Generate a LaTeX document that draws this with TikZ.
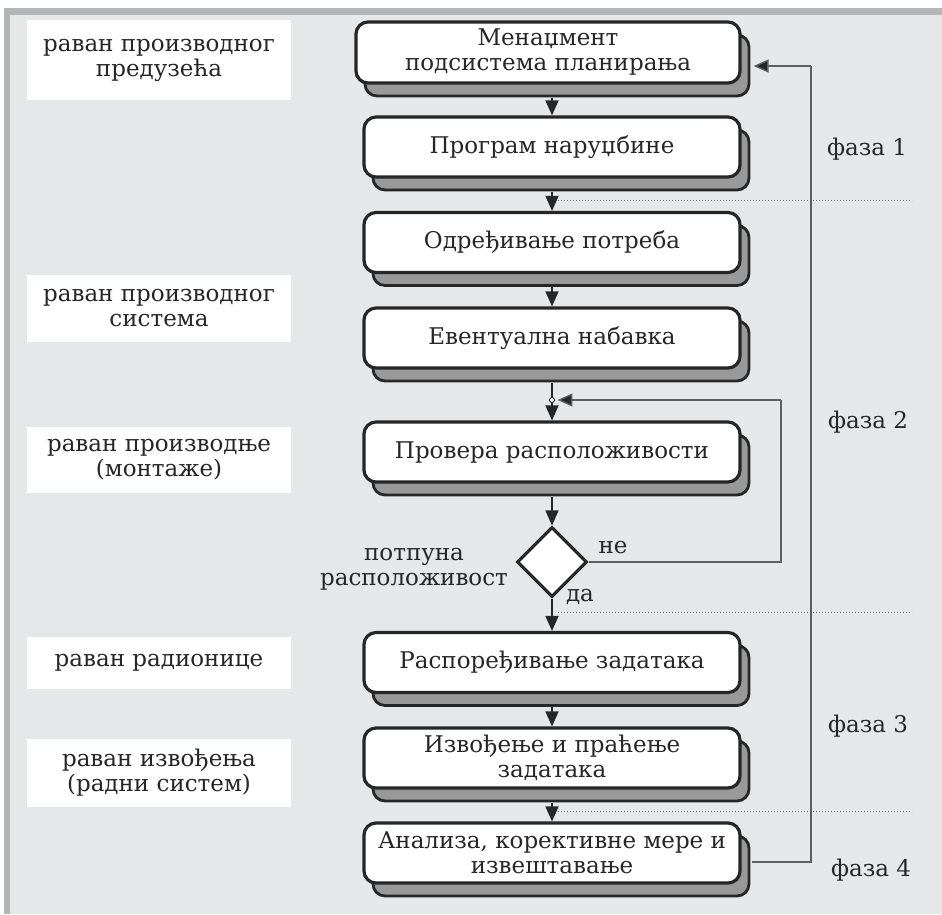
\documentclass[tikz,border=0pt]{standalone}
\usepackage{fontspec}
\setmainfont{DejaVu Serif}
\usetikzlibrary{arrows.meta,shapes.geometric,shadows,calc}
\definecolor{bgc}{HTML}{E6E7E8}
\definecolor{bandc}{HTML}{B4B5B7}
\definecolor{ink}{HTML}{262626}
\definecolor{shade}{HTML}{999999}
\definecolor{wire}{HTML}{5E5E5E}
\definecolor{sepc}{HTML}{7A7A7A}

\begin{document}
\begin{tikzpicture}[x=1pt,y=-1pt,
  txt/.style={text=ink, font=\fontsize{23}{25}\selectfont},
  stepbox/.style={txt, rectangle, rounded corners=12pt, draw=ink, line width=3.2pt,
    fill=white, minimum width=376pt, minimum height=60pt, inner sep=2pt, align=center,
    copy shadow={shadow xshift=9pt, shadow yshift=-13pt, fill=shade, draw=ink, line width=2.8pt}},
  levelbox/.style={txt, rectangle, fill=white, minimum width=264pt, inner sep=0pt, align=center},
  decision/.style={diamond, draw=ink, line width=3.2pt, fill=white, minimum width=70pt,
    minimum height=70pt, inner sep=0pt, aspect=1},
  flow/.style={draw=ink, line width=1.6pt, -{Triangle[length=15pt,width=13pt]}},
  plain/.style={draw=ink, line width=1.6pt},
  wireline/.style={draw=wire, line width=1.4pt},
  wirearrow/.style={wireline, -{Triangle[length=15pt,width=13pt]}, arrows={[fill=ink]}},
  sep/.style={draw=sepc, line width=1pt, dotted},
  phase/.style={txt, anchor=west, inner sep=0pt},
  answer/.style={txt, inner sep=0pt}]

% page, frame bands and panel
\useasboundingbox (0,0) rectangle (942,914);
\fill[white] (0,0) rectangle (942,914);
\fill[bandc] (4,8) rectangle (942,15);
\fill[bandc] (4,8) rectangle (10,914);
\fill[bgc] (10,15) rectangle (942,914);

% level labels on the left
\node[levelbox, minimum height=80pt] (l1) at (159,60) {раван производног\\предузећа};
\node[levelbox, minimum height=67pt] (l2) at (159,308.5) {раван производног\\система};
\node[levelbox, minimum height=66pt] (l3) at (159,460) {раван производње\\(монтаже)};
\node[levelbox, minimum height=52pt] (l4) at (159,663) {раван радионице};
\node[levelbox, minimum height=68pt] (l5) at (159,773) {раван извођења\\(радни систем)};

% process steps
\node[stepbox, minimum width=384pt, minimum height=61pt] (b1) at (548,52.5) {Менаџмент\\подсистема планирања};
\node[stepbox] (b2) at (552,147) {Програм наруџбине};
\node[stepbox] (b3) at (552,242.5) {Одређивање потреба};
\node[stepbox] (b4) at (552,338) {Евентуална набавка};
\node[stepbox] (b5) at (552,452) {Провера расположивости};
\node[decision] (dm) at (552,562) {};
\node[stepbox] (b6) at (552,662.5) {Распоређивање задатака};
\node[stepbox] (b7) at (552,758) {Извођење и праћење\\задатака};
\node[stepbox] (b8) at (552,853) {Анализа, корективне мере и\\извештавање};

% decision labels
\node[txt, align=center, inner sep=0pt] (dq) at (414,569) {потпуна\\расположивост};
\node[answer] (no) at (613,548) {не};
\node[answer] (yes) at (580,597) {да};

% phase labels and separators
\node[phase] (ph1) at (827,149) {фаза 1};
\node[phase] (ph2) at (828,422) {фаза 2};
\node[phase] (ph3) at (828,726) {фаза 3};
\node[phase] (ph4) at (831,870) {фаза 4};
\draw[sep] (558,200) -- (912,200);
\draw[sep] (558,612) -- (912,612);
\draw[sep] (558,811) -- (912,811);

% main flow
\draw[flow] ($(b1.south -| b2.north)+(0,13)$) -- (b2.north);
\draw[flow] ($(b2.south)+(0,13)$) -- (b3.north);
\draw[flow] ($(b3.south)+(0,13)$) -- (b4.north);
\coordinate (j) at (552,400);
\draw[plain] ($(b4.south)+(0,13)$) -- (j);
\draw[flow] (j) -- (b5.north);
\draw[flow] ($(b5.south)+(0,13)$) -- (dm.north);
\draw[flow] (dm.south) -- (b6.north);
\draw[flow] ($(b6.south)+(0,13)$) -- (b7.north);
\draw[flow] ($(b7.south)+(0,13)$) -- (b8.north);

% availability loop
\coordinate (loopturn) at (781,400);
\node[circle, draw=ink, fill=white, line width=0.9pt, inner sep=0pt, minimum size=5pt] (jc) at (j) {};
\draw[wireline] (dm.east) -| (loopturn);
\draw[wirearrow] (loopturn) -- ($(jc.east)+(2.5,0)$);

% feedback to planning management
\coordinate (fbturn) at (811,66);
\draw[wireline] ($(b8.east)+(10,9)$) -| (fbturn);
\draw[wirearrow] (fbturn) -- ($(b1.east)+(12,13.5)$);
\end{tikzpicture}
\end{document}
